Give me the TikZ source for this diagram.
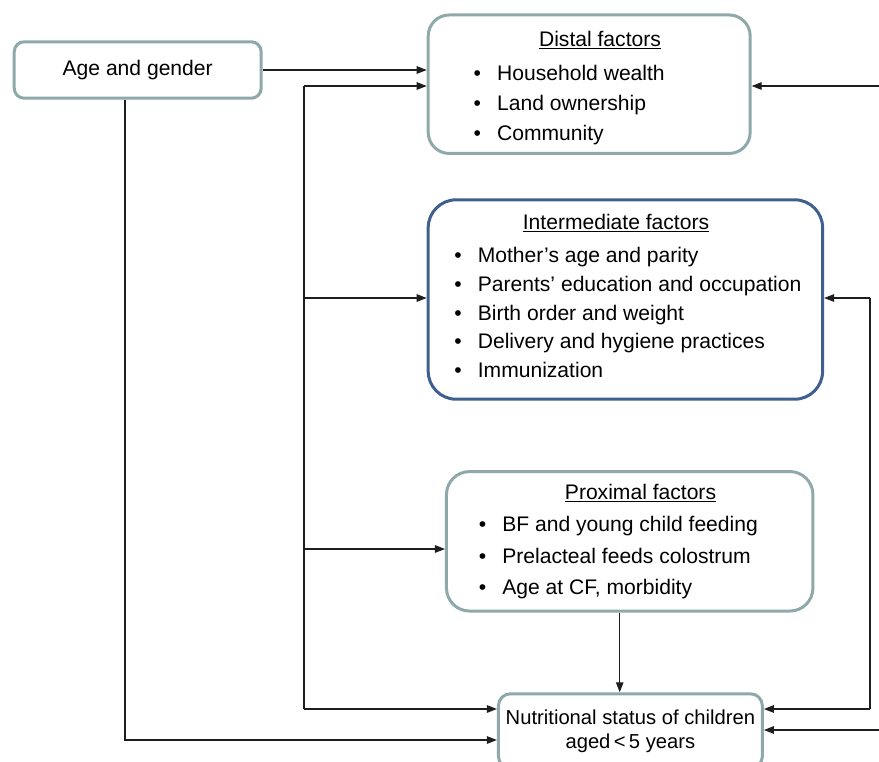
\documentclass[tikz,border=0pt]{standalone}
\usepackage{fontspec}
\setmainfont{Liberation Sans}
\usetikzlibrary{arrows.meta, positioning, calc}
\definecolor{boxteal}{HTML}{8FA9AA}
\definecolor{boxblue}{HTML}{3F5F8F}
\definecolor{wiregray}{HTML}{1E1E1E}
\newcommand{\bul}{\makebox[0.47cm][l]{\textbullet}}

\begin{document}
\begin{tikzpicture}[
  x=0.02cm, y=-0.02cm,
  box/.style={rectangle, draw=boxteal, line width=0.06cm, fill=white,
              inner sep=0pt, font=\fontsize{12}{14}\selectfont},
  title/.style={anchor=base, inner sep=0pt, font=\fontsize{12}{14}\selectfont},
  list/.style={anchor=base west, inner sep=0pt, align=left},
  arr/.style={-{Triangle[length=0.2cm, width=0.15cm]}, wiregray, line width=0.7pt},
  wire/.style={wiregray, line width=0.7pt},
]
  \useasboundingbox (0,0) rectangle (879,761);

  % boxes
  \node[box, rounded corners=0.2cm, minimum width=4.94cm, minimum height=1.13cm] (age) at (137.7,70) {Age and gender};
  \node[box, rounded corners=0.42cm, minimum width=6.44cm, minimum height=2.77cm] (distal) at (589.2,84.2) {};
  \node[box, draw=boxblue, rounded corners=0.56cm, minimum width=7.89cm, minimum height=3.99cm] (inter) at (625.4,299.5) {};
  \node[box, rounded corners=0.46cm, minimum width=7.33cm, minimum height=2.79cm] (prox) at (629.7,541.3) {};
  \node[box, rounded corners=0.24cm, minimum width=5.28cm, minimum height=1.49cm,
        align=center, font=\fontsize{11.5}{13.6}\selectfont] (nutr) at (630.4,731)
        {Nutritional status of children\\aged\,<\,5 years};

  % box contents (list anchored on its last line)
  \node[title] (distalT) at (600,46) {\underline{Distal factors}};
  \node[list, font=\fontsize{12}{16.8}\selectfont] (distalL) at (473.3,140)
        {\bul Household wealth\\ \bul Land ownership\\ \bul Community};
  \node[title] (interT) at (616,229) {\underline{Intermediate factors}};
  \node[list, font=\fontsize{12}{16.3}\selectfont] (interL) at (454,377.5)
        {\bul Mother’s age and parity\\ \bul Parents’ education and occupation\\
         \bul Birth order and weight\\ \bul Delivery and hygiene practices\\
         \bul Immunization};
  \node[title] (proxT) at (640.5,499) {\underline{Proximal factors}};
  \node[list, font=\fontsize{12}{17.7}\selectfont] (proxL) at (478.5,594.1)
        {\bul BF and young child feeding\\ \bul Prelacteal feeds colostrum\\
         \bul Age at CF, morbidity};

  % bus points
  \coordinate (bus1) at (304,86);
  \coordinate (bus2) at (304,298);
  \coordinate (bus3) at (304,549);
  \coordinate (bus4) at (304,709);
  \coordinate (agedrop) at (125,740);
  \coordinate (rbus1) at (870,298);
  \coordinate (rbus2) at (870,709);
  \coordinate (redge1) at (879,86);
  \coordinate (redge2) at (879,730);
  \coordinate (proxdrop) at ([xshift=-0.2cm]prox.south);

  % connectors
  \draw[arr] (age.east) -- (age.east -| distal.west);
  \draw[wire] (bus1) -- (bus4);
  \draw[arr] (bus1) -- (bus1 -| distal.west);
  \draw[arr] (bus2) -- (bus2 -| inter.west);
  \draw[arr] (bus3) -- (bus3 -| prox.west);
  \draw[arr] (bus4) -- (bus4 -| nutr.west);
  \draw[arr] (age.south -| agedrop) |- (nutr.west |- agedrop);
  \draw[arr] (proxdrop) -- (proxdrop |- nutr.north);
  \draw[arr] (redge1) -- (redge1 -| distal.east);
  \draw[wire] (rbus1) -- (rbus2);
  \draw[arr] (rbus1) -- (rbus1 -| inter.east);
  \draw[arr] (rbus2) -- (rbus2 -| nutr.east);
  \draw[arr] (redge2) -- (redge2 -| nutr.east);
\end{tikzpicture}
\end{document}
